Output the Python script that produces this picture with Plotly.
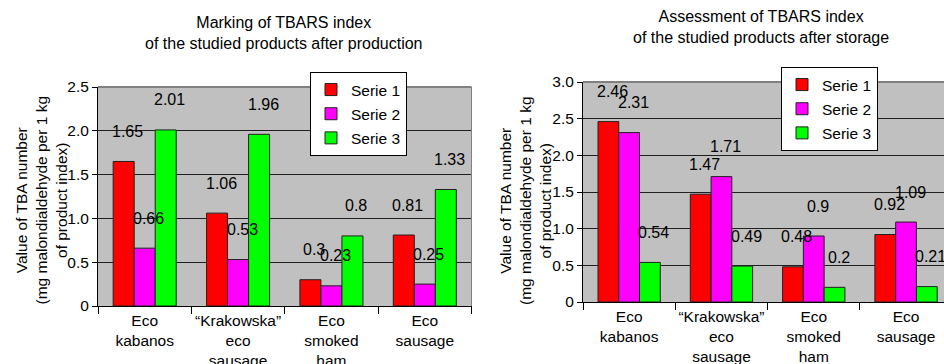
import plotly.graph_objects as go

# ---------------- data ----------------
categories = ["Eco<br>kabanos", "\u201cKrakowska\u201d<br>eco<br>sausage",
              "Eco<br>smoked<br>ham", "Eco<br>sausage"]
series_names = ["Serie 1", "Serie 2", "Serie 3"]

production_s1 = [1.65, 1.06, 0.3, 0.81]
production_s2 = [0.66, 0.53, 0.23, 0.25]
production_s3 = [2.01, 1.96, 0.8, 1.33]

storage_s1 = [2.46, 1.47, 0.48, 0.92]
storage_s2 = [2.31, 1.71, 0.9, 1.09]
storage_s3 = [0.54, 0.49, 0.2, 0.21]

left_ticks = [0, 0.5, 1.0, 1.5, 2.0, 2.5]
left_ticktext = ["0", "0.5", "1.0", "1.5", "2.0", "2.5"]
right_ticks = [0, 0.5, 1.0, 1.5, 2.0, 2.5, 3.0]
right_ticktext = ["0", "0.5", "1.0", "1.5", "2.0", "2.5", "3.0"]

left_title = "Marking of TBARS index<br>of the studied products after production"
right_title = "Assessment of TBARS index<br>of the studied products after storage"
y_title = "Value of TBA number<br>(mg malondialdehyde per 1 kg<br>of product index)"

colors = ["#FF0000", "#FF00FF", "#00FF00"]

# ---------------- figure ----------------
W, H = 944, 364
FONT = "Liberation Sans, Arial, sans-serif"
FS = 15.5
BARGAP = 0.325
BW = (1 - BARGAP) / 3

fig = go.Figure()

panels = [
    dict(xa="x", ya="y", legend="legend",
         data=[production_s1, production_s2, production_s3]),
    dict(xa="x2", ya="y2", legend="legend2",
         data=[storage_s1, storage_s2, storage_s3]),
]

annotations = []
for p in panels:
    for j, (name, vals) in enumerate(zip(series_names, p["data"])):
        fig.add_trace(go.Bar(
            x=categories, y=vals, name=name,
            marker=dict(color=colors[j], line=dict(color="#202020", width=1)),
            xaxis=p["xa"], yaxis=p["ya"], legend=p["legend"],
            offsetgroup=str(j), legendgroup=p["legend"] + str(j),
        ))
        for i, v in enumerate(vals):
            annotations.append(dict(
                x=i + (j - 1) * BW, y=v, xref=p["xa"], yref=p["ya"],
                text=f"{v:g}", showarrow=False, xshift=4, yshift=30,
                xanchor="center", yanchor="middle",
                font=dict(family=FONT, size=16, color="black"),
            ))

# titles
annotations.append(dict(x=284 / W, y=1 - 32.5 / H, xref="paper", yref="paper",
                        text=left_title, showarrow=False,
                        xanchor="center", yanchor="middle",
                        font=dict(family=FONT, size=16, color="black")))
annotations.append(dict(x=761 / W, y=1 - 27.5 / H, xref="paper", yref="paper",
                        text=right_title, showarrow=False,
                        xanchor="center", yanchor="middle",
                        font=dict(family=FONT, size=16, color="black")))
# y axis titles
annotations.append(dict(x=40.5 / W, y=1 - 200 / H, xref="paper", yref="paper",
                        text=y_title, showarrow=False, textangle=-90,
                        xanchor="center", yanchor="middle",
                        font=dict(family=FONT, size=FS, color="black")))
annotations.append(dict(x=525 / W, y=1 - 201 / H, xref="paper", yref="paper",
                        text=y_title, showarrow=False, textangle=-90,
                        xanchor="center", yanchor="middle",
                        font=dict(family=FONT, size=FS, color="black")))

axis_common = dict(showline=True, linecolor="black", linewidth=1,
                   ticks="outside", tickcolor="black", automargin=False,
                   tickfont=dict(family=FONT, size=FS, color="black"))

legend_common = dict(xanchor="left", yanchor="top",
                     bgcolor="white", bordercolor="black", borderwidth=1,
                     font=dict(family=FONT, size=FS, color="black"),
                     traceorder="grouped", tracegroupgap=1)

fig.update_layout(
    width=W, height=H,
    margin=dict(l=0, r=0, t=0, b=0),
    paper_bgcolor="white", plot_bgcolor="#C0C0C0",
    barmode="group", bargap=BARGAP, bargroupgap=0,
    font=dict(family=FONT, size=FS, color="black"),
    xaxis=dict(domain=[98 / W, 471.5 / W], range=[-0.5, 3.5], anchor="y",
               tickson="boundaries", ticklen=7, showgrid=False, tickangle=0,
               **axis_common),
    yaxis=dict(domain=[1 - 306 / H, 1 - 87 / H], range=[0, 2.5], anchor="x",
               tickvals=left_ticks, ticktext=left_ticktext, ticklen=5,
               showgrid=True, gridcolor="#202020", gridwidth=1, zeroline=False,
               **axis_common),
    xaxis2=dict(domain=[583 / W, 1], range=[-0.5, -0.5 + (944 - 583) / 92.3],
                anchor="y2", tickson="boundaries", ticklen=7, showgrid=False,
                tickangle=0, **axis_common),
    yaxis2=dict(domain=[1 - 302 / H, 1 - 82 / H], range=[0, 3.0], anchor="x2",
                tickvals=right_ticks, ticktext=right_ticktext, ticklen=5,
                showgrid=True, gridcolor="#202020", gridwidth=1, zeroline=False,
                **axis_common),
    legend=dict(x=310 / W, y=1 - 72 / H, **legend_common),
    legend2=dict(x=781 / W, y=1 - 67 / H, **legend_common),
    annotations=annotations,
    shapes=[
        # gray plot-area border (top and right)
        dict(type="line", xref="x domain", yref="y domain", x0=0, x1=1, y0=1, y1=1,
             line=dict(color="#808080", width=2)),
        dict(type="line", xref="x domain", yref="y domain", x0=1, x1=1, y0=0, y1=1,
             line=dict(color="#808080", width=1)),
        dict(type="line", xref="x2 domain", yref="y2 domain", x0=0, x1=1, y0=1, y1=1,
             line=dict(color="#808080", width=2)),
    ],
)

fig.write_html("out.html")
